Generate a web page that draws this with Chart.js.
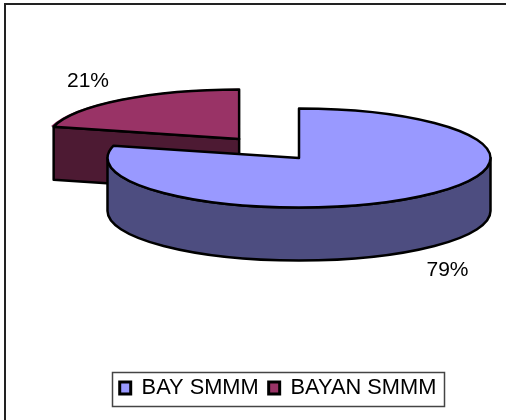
<!DOCTYPE html>
<html><head><meta charset="utf-8">
<style>html,body{margin:0;padding:0;background:#fff}canvas{display:block}</style>
<script src="https://cdn.jsdelivr.net/npm/chart.js@4"></script>
</head><body><canvas id="c" width="506" height="420"></canvas>
<script>
const categories = ['BAY SMMM', 'BAYAN SMMM'];
const seriesValues = [79, 21];
const valueLabels = ['79%', '21%'];
const topColors = ['#9999FF', '#993366'];
const wallColors = ['#4D4D80', '#4D1A33'];

const CX = 299, CY = 158, RX = 191.5, RY = 49.5, DEPTH = 53, BASE_R = 50, EXPLODE = 102, RED_NUDGE = 0.9;
const LABEL_POS = [[447.5, 270], [88, 81]];

const pie3d = {
  id: 'pie3d',
  beforeDraw(chart) {
    const c = chart.ctx;
    c.save();
    c.fillStyle = '#fff';
    c.fillRect(0, 0, chart.width, chart.height);
    c.strokeStyle = '#222';
    c.lineWidth = 2;
    c.beginPath();
    c.moveTo(5, chart.height);
    c.lineTo(5, 4);
    c.lineTo(chart.width, 4);
    c.stroke();
    const h = chart.legend.legendHitBoxes;
    const left = Math.round(h[0].left - 8), right = Math.round(h[h.length - 1].left + h[h.length - 1].width + 8);
    const mid = h[0].top + h[0].height / 2;
    c.strokeStyle = '#444';
    c.lineWidth = 1.5;
    c.strokeRect(left + 0.5, Math.round(mid - 16) + 0.5, right - left, 34);
    c.restore();
  },
  beforeDatasetsDraw(chart) {
    const c = chart.ctx;
    const arcs = chart.getDatasetMeta(0).data;
    const r = arcs[0].outerRadius, sx = RX / r, sy = RY / r;
    const T = (el) => {
      const mid = (el.startAngle + el.endAngle) / 2, o = (el.options.offset || 0) / 4;
      return [Math.cos(mid) * o * sx, Math.sin(mid) * o * sy];
    };
    const stroke = () => { c.strokeStyle = '#000'; c.lineWidth = 2.5; c.lineJoin = 'round'; c.stroke(); };

    [1, 0].forEach((i) => {
      const el = arcs[i], [dx, dy] = T(el), nudge = i === 1 ? RED_NUDGE : 0;
      const ox = CX + dx, oy = CY + dy + nudge;
      const P = (a) => [ox + Math.cos(a) * RX, oy + Math.sin(a) * RY];
      const s = el.startAngle, e = el.endAngle;
      c.save();
      c.beginPath();
      if (i === 1) {
        const p = P(s);
        c.moveTo(p[0], p[1]);
        c.lineTo(ox, oy);
        c.lineTo(ox, oy + DEPTH);
        c.lineTo(p[0], p[1] + DEPTH);
      } else {
        c.ellipse(ox, oy, RX, RY, 0, 0, Math.PI);
        c.ellipse(ox, oy + DEPTH, RX, RY, 0, Math.PI, 0, true);
      }
      c.closePath();
      c.fillStyle = wallColors[i];
      c.fill();
      stroke();
      c.restore();
      c.save();
      c.translate(CX, CY + nudge);
      c.scale(sx, sy);
      c.translate(-el.x, -el.y);
      el.draw(c);
      c.restore();
      c.save();
      c.beginPath();
      c.moveTo(ox, oy);
      c.ellipse(ox, oy, RX, RY, 0, s, e);
      c.closePath();
      stroke();
      c.restore();
    });

    c.save();
    c.fillStyle = '#000';
    c.font = '21px "Liberation Sans", Arial, sans-serif';
    c.textAlign = 'center';
    c.textBaseline = 'middle';
    valueLabels.forEach((t, i) => c.fillText(t, LABEL_POS[i][0], LABEL_POS[i][1]));
    c.restore();
    return false;
  }
};

new Chart(document.getElementById('c'), {
  type: 'pie',
  data: {
    labels: categories,
    datasets: [{
      data: seriesValues,
      backgroundColor: topColors,
      borderWidth: 0,
      radius: BASE_R,
      offset: [0, EXPLODE]
    }]
  },
  options: {
    responsive: false,
    animation: false,
    layout: { padding: { left: 50, bottom: 11 } },
    plugins: {
      tooltip: { enabled: false },
      legend: {
        position: 'bottom',
        labels: {
          color: '#000',
          font: { family: '"Liberation Sans", Arial, sans-serif', size: 21.8 },
          boxWidth: 11,
          boxHeight: 12,
          padding: 10,
          generateLabels: () => categories.map((t, i) => ({
            text: t, fillStyle: topColors[i], strokeStyle: '#000', lineWidth: 3, index: i
          }))
        }
      }
    }
  },
  plugins: [pie3d]
});
</script></body></html>
